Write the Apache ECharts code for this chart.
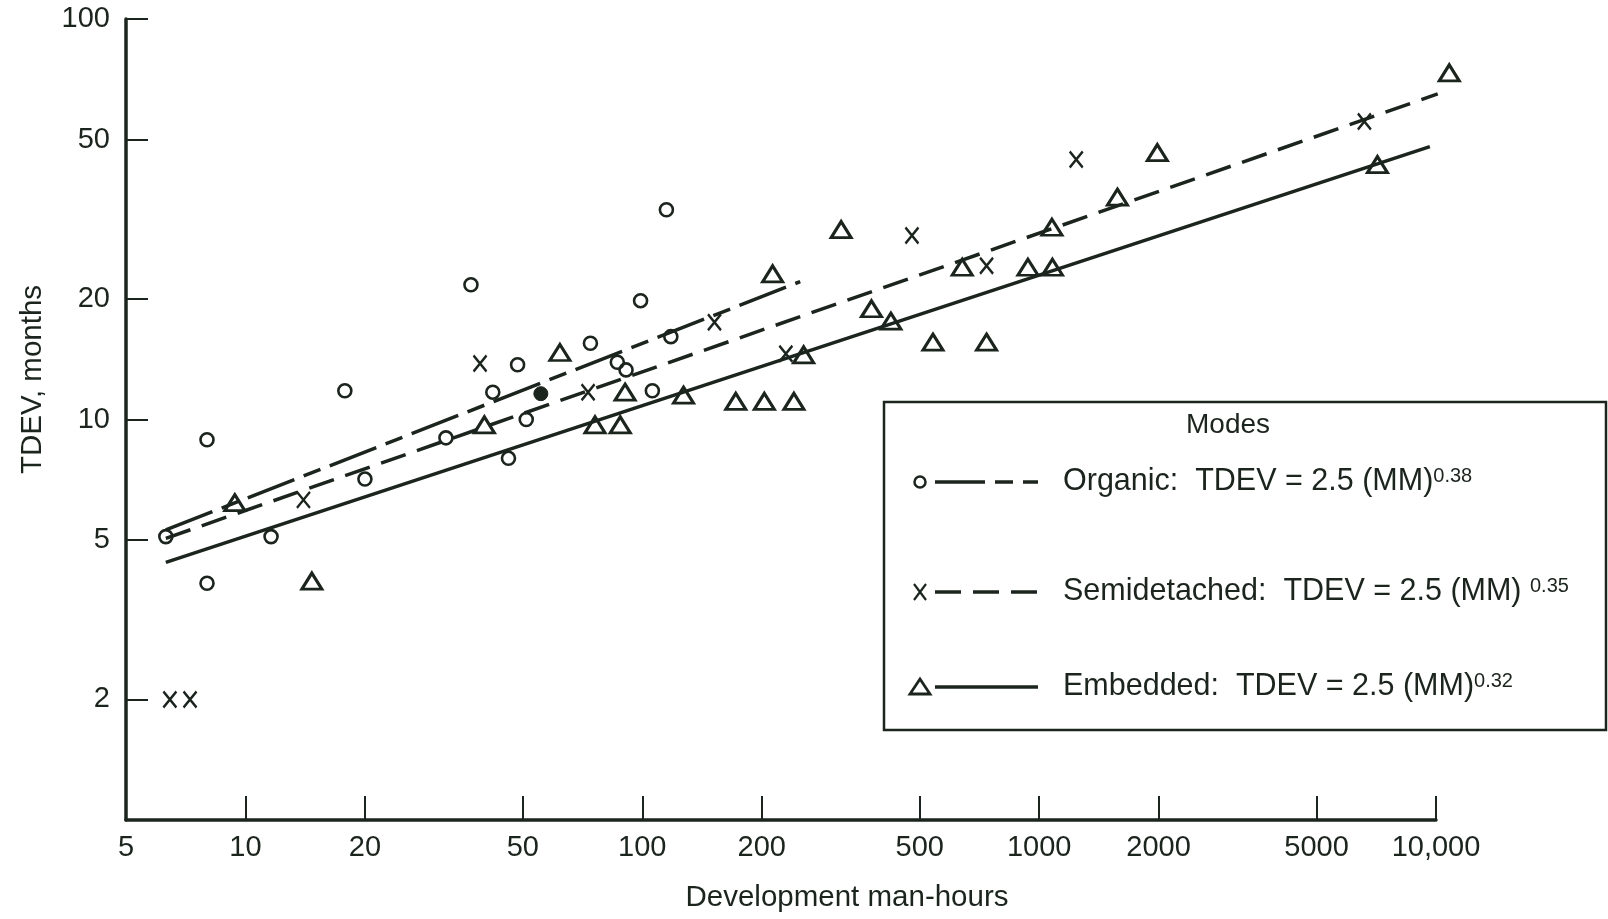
<!DOCTYPE html>
<html>
<head>
<meta charset="utf-8">
<title>TDEV vs development man-hours</title>
<script src="https://cdn.jsdelivr.net/npm/echarts@6/dist/echarts.min.js"></script>
<style>
  html, body { margin: 0; padding: 0; background: #fff; }
  #tdev_chart { width: 1608px; height: 919px; }
</style>
</head>
<body>
<div id="tdev_chart"></div>
<script>
// points: [man-hours, TDEV months]
var organicPts = [
    [6.3, 5.1], [8, 8.9], [8, 3.9], [11.6, 5.1], [17.8, 11.8], [20, 7.1],
    [32, 9], [37, 21.7], [42, 11.7], [46, 8], [48.5, 13.7], [51, 10],
    [74, 15.5], [86.5, 13.9], [91, 13.3], [99, 19.8], [106, 11.8],
    [115, 33.4], [118, 16.1]
];
var organicSolidPts = [[55.5, 11.6]];
var semiPts = [
    [6.45, 2], [7.25, 2], [14, 6.3], [39, 13.8], [73, 11.7], [152, 17.5],
    [230, 14.6], [478, 28.8], [737, 24.2], [1240, 44.6], [6600, 55.5]
];
var embeddedPts = [
    [9.4, 6.2], [14.7, 3.95], [40, 9.7], [62, 14.7], [76, 9.7], [88, 9.7],
    [90.5, 11.7], [127, 11.5], [172, 11.1], [203, 11.1], [241, 11.1],
    [213, 23.1], [255, 14.5], [317, 29.8], [378, 18.9], [423, 17.6],
    [540, 15.6], [737, 15.6], [640, 24], [937, 24], [1080, 24], [1077, 30.2],
    [1575, 35.9], [1985, 46.4], [7120, 43.3], [10800, 73.4]
];
// fitted lines, end points
var organicFit = [[6.3, 5.3], [250, 22.1]];
var semiFit = [[6.3, 5.05], [10100, 65]];
var embeddedFit = [[6.3, 4.4], [9650, 48]];

var xTicks = [5, 10, 20, 50, 100, 200, 500, 1000, 2000, 5000, 10000];
var yTicks = [2, 5, 10, 20, 50, 100];

var ink = '#1c241e';
var font = "'Liberation Sans', Arial, sans-serif";
var organicDash = [50, 10, 18, 10];
var semiDash = [26, 12];

var boardTdev = {
    myChart: '',

    legendGraphic() {
        // 图例框 (Modes)
        var rowY = [482, 592, 687];
        var g = [{
            type: 'rect',
            shape: { x: 884, y: 402, width: 722, height: 328 },
            style: { fill: '#fff', stroke: ink, lineWidth: 2.5 },
            z: 10
        }, {
            type: 'text', x: 1228, y: 425, z: 11,
            style: { text: 'Modes', fontSize: 28, fontFamily: font, fill: ink, align: 'center', verticalAlign: 'middle' }
        }];
        // markers
        g.push({ type: 'circle', shape: { cx: 920, cy: rowY[0], r: 5.5 }, style: { fill: 'none', stroke: ink, lineWidth: 2.5 }, z: 11 });
        g.push({ type: 'polyline', shape: { points: [[914, rowY[1] - 8], [926, rowY[1] + 8]] }, style: { stroke: ink, lineWidth: 2.2 }, z: 11 });
        g.push({ type: 'polyline', shape: { points: [[926, rowY[1] - 8], [914, rowY[1] + 8]] }, style: { stroke: ink, lineWidth: 2.2 }, z: 11 });
        g.push({ type: 'polygon', shape: { points: [[920, rowY[2] - 8], [930, rowY[2] + 7], [910, rowY[2] + 7]] }, style: { fill: 'none', stroke: ink, lineWidth: 2.8 }, z: 11 });
        // line samples
        var dashes = [organicDash, semiDash, null];
        rowY.forEach(function (y, i) {
            var st = { stroke: ink, lineWidth: 3.5 };
            if (dashes[i]) st.lineDash = dashes[i];
            g.push({ type: 'line', shape: { x1: 935, y1: y, x2: 1038, y2: y }, style: st, z: 11 });
        });
        var texts = [
            '{t|Organic:  TDEV = 2.5 (MM)}{s|0.38}',
            '{t|Semidetached:  TDEV = 2.5 (MM) }{s|0.35}',
            '{t|Embedded:  TDEV = 2.5 (MM)}{s|0.32}'
        ];
        texts.forEach(function (txt, i) {
            g.push({
                type: 'text', x: 1063, y: rowY[i], z: 11,
                style: {
                    text: txt, verticalAlign: 'middle', align: 'left',
                    rich: {
                        t: { fontSize: 30.5, fontFamily: font, fill: ink },
                        s: { fontSize: 20, fontFamily: font, fill: ink, verticalAlign: 'top' }
                    }
                }
            });
        });
        return g;
    },

    tdevEcharts() {
        boardTdev.myChart = echarts.init(document.getElementById('tdev_chart'));
        var lineOf = function (data, dash) {
            return {
                type: 'line', data: data, symbol: 'none', clip: false, z: 2,
                lineStyle: { color: ink, width: 3.5, type: dash || 'solid' }
            };
        };
        var option = {
            animation: false,
            backgroundColor: '#fff',
            grid: { left: 126, right: 172, top: 19, bottom: 99, outerBoundsMode: 'none' },
            xAxis: {
                type: 'log', logBase: 10, min: 5, max: 10000,
                name: 'Development man-hours', nameLocation: 'middle', nameGap: 63,
                nameTextStyle: { color: ink, fontSize: 29.5, fontFamily: font, padding: [0, 0, 0, 132] },
                axisLine: { lineStyle: { color: ink, width: 3.5 } },
                axisTick: { inside: true, length: 24, lineStyle: { color: ink, width: 2 }, customValues: xTicks.slice(1) },
                axisLabel: {
                    color: ink, fontSize: 29, fontFamily: font, margin: 13, showMaxLabel: true, showMinLabel: true,
                    customValues: xTicks,
                    formatter: function (v) {
                        v = Math.round(v);
                        return v === 10000 ? '10,000' : String(v);
                    }
                },
                splitLine: { show: false }
            },
            yAxis: {
                type: 'log', logBase: 10, min: 1, max: 100,
                name: 'TDEV, months', nameLocation: 'middle', nameRotate: 90, nameGap: 78,
                nameTextStyle: { color: ink, fontSize: 29.5, fontFamily: font, padding: [0, 0, 0, 80] },
                axisLine: { lineStyle: { color: ink, width: 3.5 } },
                axisTick: { inside: true, length: 22, lineStyle: { color: ink, width: 2 }, customValues: yTicks },
                axisLabel: {
                    color: ink, fontSize: 29, fontFamily: font, margin: 16,
                    customValues: yTicks,
                    formatter: function (v) { return String(Math.round(v)); }
                },
                splitLine: { show: false }
            },
            series: [
                lineOf(embeddedFit),
                lineOf(semiFit, semiDash),
                lineOf(organicFit, organicDash),
                {
                    name: 'Organic', type: 'scatter', data: organicPts, clip: false, z: 3,
                    symbol: 'circle', symbolSize: 13,
                    itemStyle: { color: 'rgba(0,0,0,0)', borderColor: ink, borderWidth: 2.6, opacity: 1 }
                },
                {
                    name: 'Organic', type: 'scatter', data: organicSolidPts, clip: false, z: 3,
                    symbol: 'circle', symbolSize: 14,
                    itemStyle: { color: ink, borderColor: ink, borderWidth: 1, opacity: 1 }
                },
                {
                    name: 'Semidetached', type: 'scatter', data: semiPts, clip: false, z: 3,
                    symbol: 'path://M0,0L12,15M12,0L0,15', symbolSize: [13, 16],
                    itemStyle: { color: 'rgba(0,0,0,0)', borderColor: ink, borderWidth: 2.5, opacity: 1 }
                },
                {
                    name: 'Embedded', type: 'scatter', data: embeddedPts, clip: false, z: 3,
                    symbol: 'triangle', symbolSize: [20, 16],
                    itemStyle: { color: 'rgba(0,0,0,0)', borderColor: ink, borderWidth: 3, opacity: 1 }
                }
            ],
            graphic: boardTdev.legendGraphic()
        };
        boardTdev.myChart.setOption(option);
    }
};

boardTdev.tdevEcharts();

window.onresize = function () {
    if (boardTdev.myChart) boardTdev.myChart.resize();
};
</script>
</body>
</html>
